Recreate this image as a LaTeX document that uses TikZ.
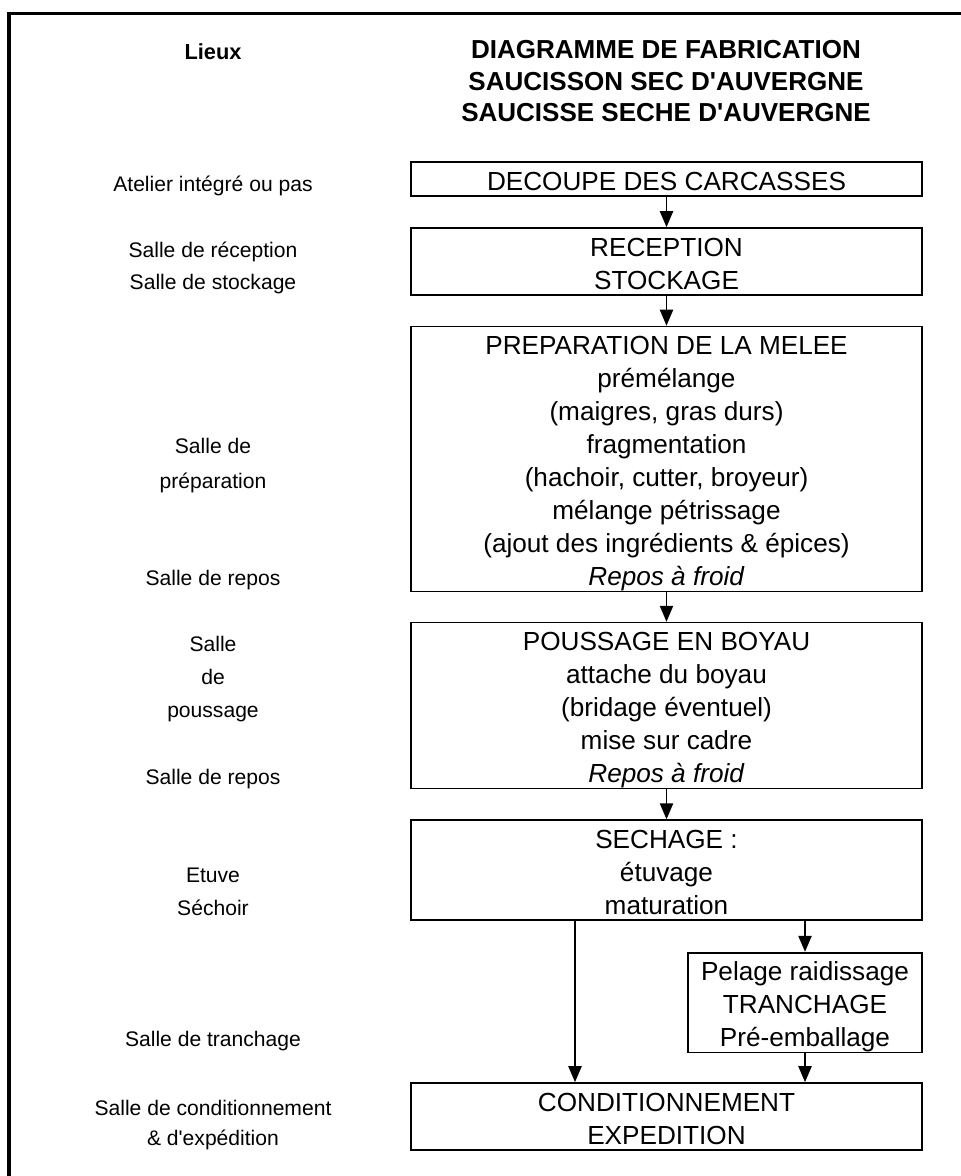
\documentclass[tikz,border=0pt]{standalone}
\usepackage{fontspec}
\setmainfont{Liberation Sans}
\usetikzlibrary{arrows.meta}
\newcommand{\deb}{\rule{0pt}{20pt}}
\newcommand{\fin}{\rule[-3.9pt]{0pt}{0pt}}
\begin{document}
\begin{tikzpicture}[x=0.025cm, y=-0.025cm,
    lieu/.style={anchor=base, font=\fontsize{15}{18}\selectfont},
    etape/.style={draw, line width=1.2pt, inner sep=0pt, align=center, minimum width=12.775cm, font=\fontsize{18.6}{23.5}\selectfont},
    fleche/.style={line width=1.2pt, -{Triangle[length=0.4cm, width=0.33cm]}}]
    \useasboundingbox (0,0) rectangle (960,1176);
    \draw[line width=2.2pt] (9,13.5) rectangle (990,1200);

    \node[lieu, font=\fontsize{15.5}{18}\selectfont\bfseries] (lieux) at (213,60) {Lieux};
    \node[align=center, font=\fontsize{18.5}{22.4}\selectfont\bfseries] (titre) at (666,81.5) {DIAGRAMME DE FABRICATION\\SAUCISSON SEC D\textquotesingle AUVERGNE\\SAUCISSE SECHE D\textquotesingle AUVERGNE};

    \node[lieu] (latelier) at (213,191.5) {Atelier intégré ou pas};
    \node[lieu] (lreception) at (213,257.5) {Salle de réception};
    \node[lieu] (lstockage) at (213,289.5) {Salle de stockage};
    \node[lieu] (lprep) at (213,453.5) {Salle de};
    \node[lieu] (lprepb) at (213,488.5) {préparation};
    \node[lieu] (lrepos) at (213,585.5) {Salle de repos};
    \node[lieu] (lpous) at (213,651.5) {Salle};
    \node[lieu] (lpousb) at (213,684.5) {de};
    \node[lieu] (lpousc) at (213,717.5) {poussage};
    \node[lieu] (lreposb) at (213,784.5) {Salle de repos};
    \node[lieu] (letuve) at (213,882.5) {Etuve};
    \node[lieu] (lsechoir) at (213,915.5) {Séchoir};
    \node[lieu] (ltranchage) at (213,1046.5) {Salle de tranchage};
    \node[lieu] (lcond) at (213,1115.5) {Salle de conditionnement};
    \node[lieu] (lcondb) at (213,1145.5) {\& d\textquotesingle expédition};

    \node[etape, minimum height=0.85cm] (decoupe) at (666.5,179) {\deb DECOUPE DES CARCASSES\fin};
    \node[etape, minimum height=1.675cm] (reception) at (666.5,261.5) {\deb RECEPTION\\STOCKAGE\fin};
    \node[etape, minimum height=6.6cm] (preparation) at (666.5,459) {\deb PREPARATION DE LA MELEE\\prémélange\\(maigres, gras durs)\\fragmentation\\(hachoir, cutter, broyeur)\\mélange pétrissage\\(ajout des ingrédients \& épices)\\\textit{Repos à froid}\fin};
    \node[etape, minimum height=4.125cm] (poussage) at (666.5,705.5) {\deb POUSSAGE EN BOYAU\\attache du boyau\\(bridage éventuel)\\mise sur cadre\\\textit{Repos à froid}\fin};
    \node[etape, minimum height=2.45cm] (sechage) at (666.5,870) {\deb SECHAGE :\\étuvage\\maturation\fin};
    \node[etape, minimum width=5.85cm, minimum height=2.475cm] (tranchage) at (805,1002.5) {\deb Pelage raidissage\\TRANCHAGE\\Pré-emballage\fin};
    \node[etape, minimum height=1.675cm] (conditionnement) at (666.5,1116.5) {\deb CONDITIONNEMENT\\EXPEDITION\fin};

    \coordinate (branche) at (575,1000);
    \draw[fleche] (decoupe) -- (reception);
    \draw[fleche] (reception) -- (preparation);
    \draw[fleche] (preparation) -- (poussage);
    \draw[fleche] (poussage) -- (sechage);
    \draw[fleche] (sechage.south -| branche) -- (conditionnement.north -| branche);
    \draw[fleche] (sechage.south -| tranchage.north) -- (tranchage.north);
    \draw[fleche] (tranchage.south) -- (conditionnement.north -| tranchage.south);
\end{tikzpicture}
\end{document}
